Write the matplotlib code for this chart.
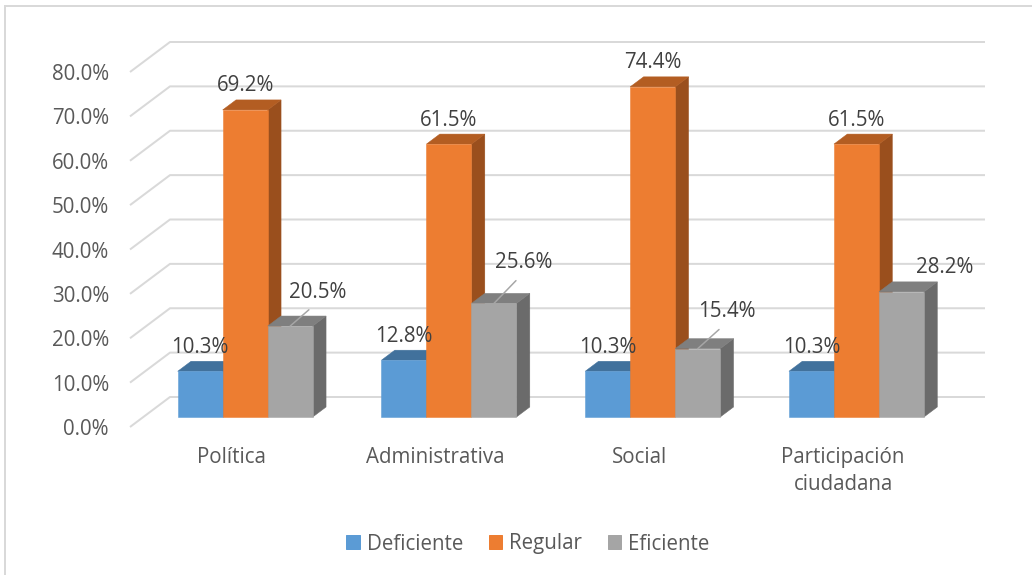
import matplotlib
matplotlib.use("Agg")
import matplotlib.pyplot as plt
from matplotlib.patches import Polygon, Patch
from matplotlib.lines import Line2D

plt.rcParams['font.family'] = ['Open Sans', 'DejaVu Sans']

categories = ['Política', 'Administrativa', 'Social', 'Participación\nciudadana']
series = ['Deficiente', 'Regular', 'Eficiente']
deficiente = [10.3, 12.8, 10.3, 10.3]
regular = [69.2, 61.5, 74.4, 61.5]
eficiente = [20.5, 25.6, 15.4, 28.2]
values = [deficiente, regular, eficiente]

yticks = [0, 10, 20, 30, 40, 50, 60, 70, 80]

# colours: front, top, side
face = ['#5b9bd5', '#ed7d31', '#a5a5a5']
top = ['#41719c', '#b35d22', '#7f7f7f']
side = ['#3a6690', '#9a4f1d', '#6b6b6b']

# label offsets (points) for the grey series, moved by hand in the original
grey_off = [(27, 34), (29.5, 41), (29.5, 37), (43.5, 24)]
grey_leader = [True, True, True, False]

W, H = 1032, 575
fig = plt.figure(figsize=(W / 72, H / 72), dpi=72)
ax = fig.add_axes([130 / W, (H - 427) / H, 815 / W, 355 / H])
ax.set_xlim(-0.5, 3.5)
ax.set_ylim(0, 80)

# depth shift of the back wall, in data units
px_x = 815 / 4.0
px_y = 355 / 80.0
DX = 40 / px_x
DV = 30 / px_y


def proj(x, v, d):
    return (x + DX * d, v + DV * d)


# perspective gridlines
for v in yticks:
    pts = [proj(-0.5, v, 0), proj(-0.5, v, 1), proj(3.5, v, 1)]
    ax.plot([p[0] for p in pts], [p[1] for p in pts], color='#d9d9d9',
            lw=2, zorder=1, clip_on=False, solid_capstyle='butt')

bw = 45 / px_x
d1, d2 = 1 / 3, 2 / 3
z = 2
for i in range(len(categories)):
    for j in range(len(series)):
        val = values[j][i]
        x0 = i - 1.5 * bw + j * bw
        x1 = x0 + bw
        front = [proj(x0, 0, d1), proj(x1, 0, d1), proj(x1, val, d1), proj(x0, val, d1)]
        topf = [proj(x0, val, d1), proj(x1, val, d1), proj(x1, val, d2), proj(x0, val, d2)]
        sidef = [proj(x1, 0, d1), proj(x1, 0, d2), proj(x1, val, d2), proj(x1, val, d1)]
        for poly, col in ((sidef, side[j]), (topf, top[j]), (front, face[j])):
            ax.add_patch(Polygon(poly, closed=True, facecolor=col, edgecolor=col,
                                 lw=0.5, zorder=z, clip_on=False))
        z += 1

        xc, yc = proj((x0 + x1) / 2, val, d1)
        lbl = f'{val:.1f}%'
        if j == 2:
            off = grey_off[i]
            arrow = None
            if grey_leader[i]:
                arrow = dict(arrowstyle='-', color='#a6a6a6', lw=1.5,
                             relpos=(0.5, 0.0), shrinkA=8, shrinkB=0)
            ax.annotate(lbl, xy=(xc, yc), xytext=off, textcoords='offset points',
                        ha='center', va='center', fontsize=20.5, color='#404040',
                        arrowprops=arrow, zorder=50, annotation_clip=False)
        else:
            ax.annotate(lbl, xy=(xc, yc), xytext=(0, 24), textcoords='offset points',
                        ha='center', va='center', fontsize=20.5, color='#404040',
                        zorder=50, annotation_clip=False)

ax.set_yticks(yticks)
ax.set_yticklabels([f'{v:.1f}%' for v in yticks])
ax.set_xticks(range(len(categories)))
ax.set_xticklabels(categories, linespacing=1.4)
ax.tick_params(axis='y', length=0, pad=21, labelsize=20.5, labelcolor='#595959')
ax.tick_params(axis='x', length=0, pad=20, labelsize=20.5, labelcolor='#595959')
for s in ax.spines.values():
    s.set_visible(False)
ax.patch.set_visible(False)

handles = [Patch(facecolor=c, edgecolor=c) for c in face]
fig.legend(handles, series, loc='center', bbox_to_anchor=(528 / W, 1 - 544 / H),
           ncol=3, frameon=False, fontsize=20.5, labelcolor='#595959',
           handlelength=0.65, handleheight=0.65, handletextpad=0.35,
           columnspacing=1.25)

# chart border (only left and top edges are inside the picture)
fig.add_artist(Line2D([5 / W, 5 / W], [0, 1 - 6 / H], color='#d9d9d9', lw=2))
fig.add_artist(Line2D([5 / W, 1], [1 - 6 / H, 1 - 6 / H], color='#d9d9d9', lw=2))

fig.savefig('out.png', dpi=72, facecolor='white')
